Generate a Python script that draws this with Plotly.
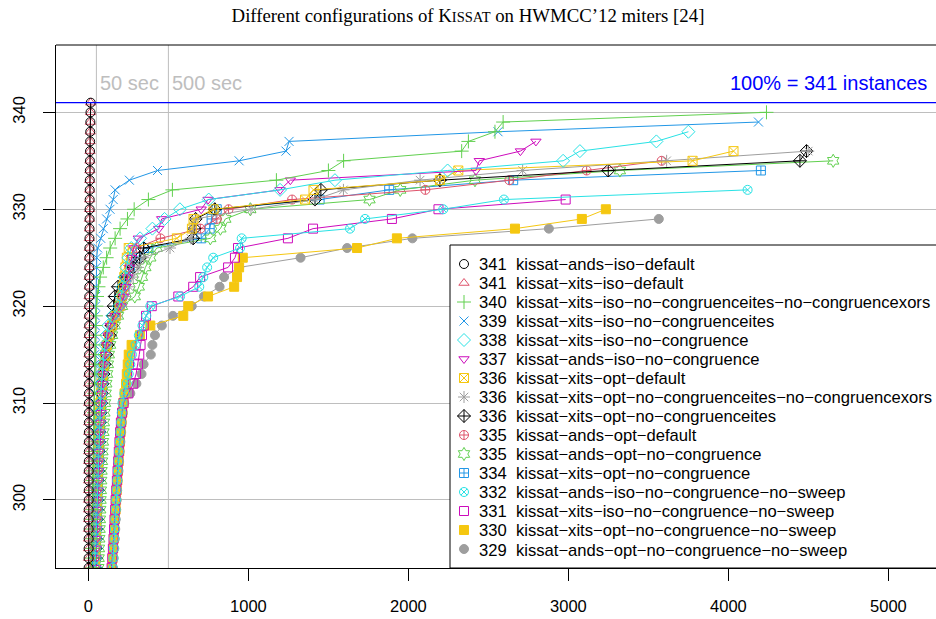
import plotly.graph_objects as go

# ---------------- data ----------------
FIRST_RANK = 292          # rank of the first listed solve time of every series
TOTAL_INSTANCES = 341
TIME_MARKS = [50, 500]

names = [
    "kissat−ands−iso−default",
    "kissat−xits−iso−default",
    "kissat−xits−iso−no−congruenceites−no−congruencexors",
    "kissat−xits−iso−no−congruenceites",
    "kissat−xits−iso−no−congruence",
    "kissat−ands−iso−no−congruence",
    "kissat−xits−opt−default",
    "kissat−xits−opt−no−congruenceites−no−congruencexors",
    "kissat−xits−opt−no−congruenceites",
    "kissat−ands−opt−default",
    "kissat−ands−opt−no−congruence",
    "kissat−xits−opt−no−congruence",
    "kissat−ands−iso−no−congruence−no−sweep",
    "kissat−xits−iso−no−congruence−no−sweep",
    "kissat−xits−opt−no−congruence−no−sweep",
    "kissat−ands−opt−no−congruence−no−sweep",
]
solved = [341, 341, 340, 339, 338, 337, 336, 336, 336, 335, 335, 334, 332, 331, 330, 329]

# sorted solve times (seconds) for ranks FIRST_RANK .. solved
t_ands_iso_default = [1.2, 1.3, 1.4, 1.5, 1.6, 1.7, 1.8, 1.9, 2.0, 2.1, 2.2, 2.3, 2.5, 2.6, 2.8, 2.9, 3.0,
                      3.2, 3.3, 3.5, 3.6, 3.8, 4.0, 4.1, 4.3, 4.5, 4.7, 4.9, 5.1, 5.3, 5.5, 5.7, 5.9, 6.1,
                      6.4, 6.7, 7.0, 7.3, 7.6, 8.0, 8.4, 8.8, 9.2, 9.7, 10.2, 10.8, 11.5, 12.3, 13.2, 14.5]
t_xits_iso_default = [0.9, 1.0, 1.1, 1.2, 1.3, 1.4, 1.5, 1.6, 1.7, 1.8, 1.9, 2.0, 2.1, 2.2, 2.4, 2.5, 2.6,
                      2.8, 2.9, 3.1, 3.2, 3.4, 3.5, 3.7, 3.9, 4.1, 4.3, 4.5, 4.7, 4.9, 5.1, 5.3, 5.6, 5.8,
                      6.1, 6.4, 6.7, 7.0, 7.4, 7.8, 8.2, 8.6, 9.1, 9.6, 10.1, 10.7, 11.4, 12.2, 13.1, 14.0]
t_xits_iso_nocei_nocex = [18, 19, 19, 21, 22, 22, 24, 25, 26, 26, 28, 29, 30, 31, 31, 33, 34, 35, 36, 37,
                          38, 39, 40, 41, 42, 43, 45, 47, 50, 54, 63, 73, 93, 114, 136, 167, 198, 244,
                          286, 375, 525, 1175, 1500, 1595, 2333, 2375, 2541, 2592, 4238]
t_xits_iso_nocei = [24, 25, 25, 26, 27, 27, 28, 29, 29, 30, 31, 31, 32, 33, 33, 34, 35, 35, 36, 37, 37, 38,
                    39, 39, 40, 41, 42, 43, 44, 45, 46, 47, 49, 52, 58, 77, 93, 114, 135, 155, 167, 256,
                    432, 942, 1235, 1254, 2560, 4188]
t_xits_iso_nocong = [40, 42, 43, 45, 47, 48, 50, 52, 54, 55, 57, 59, 61, 63, 65, 67, 70, 72, 75, 78, 82,
                     86, 91, 97, 104, 112, 124, 150, 190, 203, 214, 225, 236, 250, 268, 323, 400, 476,
                     572, 752, 1198, 1541, 2245, 2967, 3072, 3550, 3750]
t_ands_iso_nocong = [44, 46, 48, 50, 51, 53, 55, 57, 59, 61, 63, 65, 67, 69, 71, 73, 76, 79, 82, 85, 89,
                     93, 98, 104, 112, 122, 136, 165, 205, 222, 234, 246, 258, 270, 283, 312, 440, 458,
                     705, 748, 1198, 1262, 2422, 2443, 2700, 2797]
t_xits_opt_default = [38, 40, 42, 44, 45, 47, 49, 51, 52, 54, 56, 58, 60, 62, 64, 66, 69, 72, 75, 79, 84,
                      90, 97, 105, 115, 130, 148, 170, 195, 208, 217, 224, 231, 240, 252, 553, 647, 657,
                      782, 1354, 1407, 2197, 2312, 3776, 4032]
t_xits_opt_nocei_nocex = [36, 38, 40, 42, 44, 46, 48, 50, 52, 54, 56, 58, 60, 62, 64, 67, 70, 73, 76, 80,
                          85, 91, 98, 107, 118, 132, 150, 175, 205, 230, 255, 280, 310, 344, 510, 640,
                          655, 668, 1016, 1416, 1594, 2073, 2714, 3614, 4499]
t_xits_opt_nocei = [42, 44, 46, 47, 49, 51, 53, 55, 57, 58, 60, 62, 64, 66, 68, 70, 73, 76, 79, 83, 88,
                    94, 101, 110, 120, 133, 145, 152, 158, 165, 185, 230, 280, 320, 345, 655, 663, 670,
                    790, 1416, 1453, 2197, 3249, 4447, 4488]
t_ands_opt_default = [39, 41, 43, 45, 47, 49, 50, 52, 54, 56, 58, 60, 62, 64, 66, 68, 71, 74, 77, 81, 86,
                      92, 99, 108, 120, 135, 152, 175, 200, 215, 228, 240, 255, 270, 300, 450, 700, 803,
                      876, 1273, 2106, 2631, 3114, 3583]
t_ands_opt_nocong = [60, 62, 64, 66, 68, 70, 72, 74, 76, 78, 80, 82, 85, 88, 91, 94, 97, 100, 104, 108,
                     112, 117, 122, 128, 136, 148, 165, 185, 210, 290, 315, 335, 356, 387, 427, 762, 825,
                     856, 1012, 1757, 1949, 2416, 3322, 4655]
t_xits_opt_nocong = [41, 43, 45, 47, 48, 50, 52, 54, 56, 57, 59, 61, 63, 65, 67, 69, 72, 75, 78, 82, 87,
                     93, 100, 109, 120, 134, 150, 170, 195, 210, 222, 235, 260, 300, 375, 705, 758, 770,
                     802, 1445, 1880, 2655, 4203]
t_ands_iso_nocong_nosweep = [148, 152, 156, 159, 162, 165, 168, 171, 174, 177, 180, 184, 188, 192, 196, 200,
                             204, 208, 213, 225, 240, 252, 262, 272, 295, 315, 338, 362, 387, 573, 693,
                             718, 742, 780, 948, 958, 1635, 1729, 2218, 2597, 4120]
t_xits_iso_nocong_nosweep = [140, 145, 149, 153, 157, 160, 163, 167, 170, 174, 178, 182, 186, 190, 194, 198,
                             203, 210, 220, 250, 280, 298, 310, 318, 326, 335, 346, 360, 396, 562, 655,
                             698, 873, 916, 935, 1247, 1404, 1897, 2188, 2983]
t_xits_opt_nocong_nosweep = [142, 147, 151, 155, 159, 162, 166, 170, 173, 177, 181, 185, 189, 193, 197, 201,
                             206, 212, 218, 226, 235, 240, 246, 252, 270, 322, 387, 593, 624, 748, 911,
                             929, 942, 965, 1679, 1928, 2666, 3084, 3234]
t_ands_opt_nocong_nosweep = [150, 154, 158, 162, 165, 168, 171, 174, 177, 180, 184, 188, 192, 196, 200, 205,
                             210, 216, 224, 262, 300, 332, 345, 390, 400, 416, 459, 528, 646, 722, 820,
                             848, 942, 1326, 1617, 2025, 2878, 3565]

times = [t_ands_iso_default, t_xits_iso_default, t_xits_iso_nocei_nocex, t_xits_iso_nocei,
         t_xits_iso_nocong, t_ands_iso_nocong, t_xits_opt_default, t_xits_opt_nocei_nocex,
         t_xits_opt_nocei, t_ands_opt_default, t_ands_opt_nocong, t_xits_opt_nocong,
         t_ands_iso_nocong_nosweep, t_xits_iso_nocong_nosweep, t_xits_opt_nocong_nosweep,
         t_ands_opt_nocong_nosweep]

x_ticks = [0, 1000, 2000, 3000, 4000, 5000]
y_ticks = [300, 310, 320, 330, 340]

# ---------------- styles ----------------
colors = ["#000000", "#DF536B", "#61D04F", "#2297E6", "#28E2E5", "#CD0BBC", "#F5C710", "#9E9E9E",
          "#000000", "#DF536B", "#61D04F", "#2297E6", "#28E2E5", "#CD0BBC", "#F5C710", "#9E9E9E"]
symbols = ["circle-open", "triangle-up-open", "cross-thin-open", "x-thin-open", "diamond-open",
           "triangle-down-open", "square-x-open", "asterisk-open", "diamond-cross-open",
           "circle-cross-open", "hexagram-open", "square-cross-open", "circle-x-open",
           "square-open", "square", "circle"]
sizes = [9, 9, 10, 9, 10, 9, 9, 10, 10, 9, 10, 9, 9, 9, 9, 9]

# plot-area geometry (pixels)
W, H = 936, 619
ML, MR, MT, MB = 56, 0, 45, 51
PW, PH = W - ML - MR, H - MT - MB

def px2paper_x(px):
    return (px - ML) / PW

def px2paper_y(py):
    return (H - MB - py) / PH

fig = go.Figure()

# main traces, drawn last-to-first so the first series lie on top
for i in reversed(range(len(times))):
    ys = list(range(FIRST_RANK, FIRST_RANK + len(times[i])))
    fig.add_trace(go.Scatter(
        x=times[i], y=ys, mode="lines+markers", showlegend=False,
        line=dict(color=colors[i], width=1),
        marker=dict(symbol=symbols[i], size=sizes[i], color=colors[i],
                    line=dict(color=colors[i], width=1)),
        name=names[i], hoverinfo="x+y+name"))

# legend-only traces (markers only)
for i in range(len(times)):
    fig.add_trace(go.Scatter(
        x=[None], y=[None], mode="markers", showlegend=True, name=" ",
        marker=dict(symbol=symbols[i], size=sizes[i], color=colors[i],
                    line=dict(color=colors[i], width=1))))

shapes = []
for t in TIME_MARKS:
    shapes.append(dict(type="line", xref="x", yref="paper", x0=t, x1=t, y0=0, y1=1,
                       line=dict(color="#BEBEBE", width=1), layer="below"))
shapes.append(dict(type="line", xref="paper", yref="y", x0=0, x1=1,
                   y0=TOTAL_INSTANCES, y1=TOTAL_INSTANCES,
                   line=dict(color="#0000FF", width=1.3), layer="above"))
# top frame line
shapes.append(dict(type="line", xref="paper", yref="paper", x0=0, x1=1, y0=1, y1=1,
                   line=dict(color="black", width=1), layer="above"))
# legend box
shapes.append(dict(type="rect", xref="paper", yref="paper",
                   x0=px2paper_x(450), x1=1.1, y0=0, y1=px2paper_y(245),
                   fillcolor="white", line=dict(color="black", width=1), layer="above"))

annotations = []
for t in TIME_MARKS:
    annotations.append(dict(text=f"{t} sec", xref="x", yref="paper", x=t,
                            y=px2paper_y(83), xanchor="left", yanchor="middle", xshift=2,
                            showarrow=False,
                            font=dict(family="Liberation Sans", size=20, color="#BEBEBE")))
annotations.append(dict(text=f"100% = {TOTAL_INSTANCES} instances", xref="paper", yref="paper",
                        x=px2paper_x(929), y=px2paper_y(83), xanchor="right", yanchor="middle",
                        showarrow=False, font=dict(family="Liberation Sans", size=20, color="#0000FF")))

ROW0, ROWH = 264, 19.07
for i in range(len(names)):
    yy = px2paper_y(ROW0 + i * ROWH)
    annotations.append(dict(text=str(solved[i]), xref="paper", yref="paper", x=px2paper_x(477),
                            y=yy, xanchor="left", yanchor="middle", showarrow=False,
                            font=dict(family="Liberation Sans", size=16.6, color="black")))
    annotations.append(dict(text=names[i], xref="paper", yref="paper", x=px2paper_x(514),
                            y=yy, xanchor="left", yanchor="middle", showarrow=False,
                            font=dict(family="Liberation Sans", size=16.6, color="black")))

fig.update_layout(
    width=W, height=H,
    margin=dict(l=ML, r=MR, t=MT, b=MB, pad=0, autoexpand=False),
    paper_bgcolor="white", plot_bgcolor="white",
    title=dict(text="Different configurations of K<span style='font-size:14.5px'>ISSAT</span> on HWMCC’12 miters [24]",
               x=0.5, xanchor="center", y=1 - 15 / H, yanchor="middle", yref="container",
               font=dict(family="Liberation Serif", size=18.8, color="black")),
    xaxis=dict(range=[-202.5, -202.5 + PW / 0.160], tickvals=x_ticks, ticktext=[str(v) for v in x_ticks],
               showgrid=False, zeroline=False, showline=True, linecolor="black", linewidth=1,
               ticks="outside", ticklen=12, tickcolor="black", tickwidth=1,
               ticklabelstandoff=11, automargin=False,
               tickfont=dict(family="Liberation Sans", size=16.5, color="black")),
    yaxis=dict(range=[292.98, 346.95], tickvals=y_ticks, ticktext=[str(v) for v in y_ticks],
               showgrid=True, gridcolor="#BEBEBE", gridwidth=1, zeroline=False,
               showline=True, linecolor="black", linewidth=1,
               ticks="outside", ticklen=12, tickcolor="black", tickwidth=1, tickangle=-90,
               ticklabelstandoff=11, automargin=False,
               tickfont=dict(family="Liberation Sans", size=16.5, color="black")),
    legend=dict(x=px2paper_x(444), y=px2paper_y(249.5), xanchor="left", yanchor="top",
                bgcolor="rgba(0,0,0,0)", borderwidth=0, font=dict(size=12),
                traceorder="normal", itemsizing="trace"),
    shapes=shapes, annotations=annotations,
)

fig.write_html("out.html", config={"displayModeBar": False},
               post_script="document.body.style.margin='0';document.body.style.overflow='hidden';")
